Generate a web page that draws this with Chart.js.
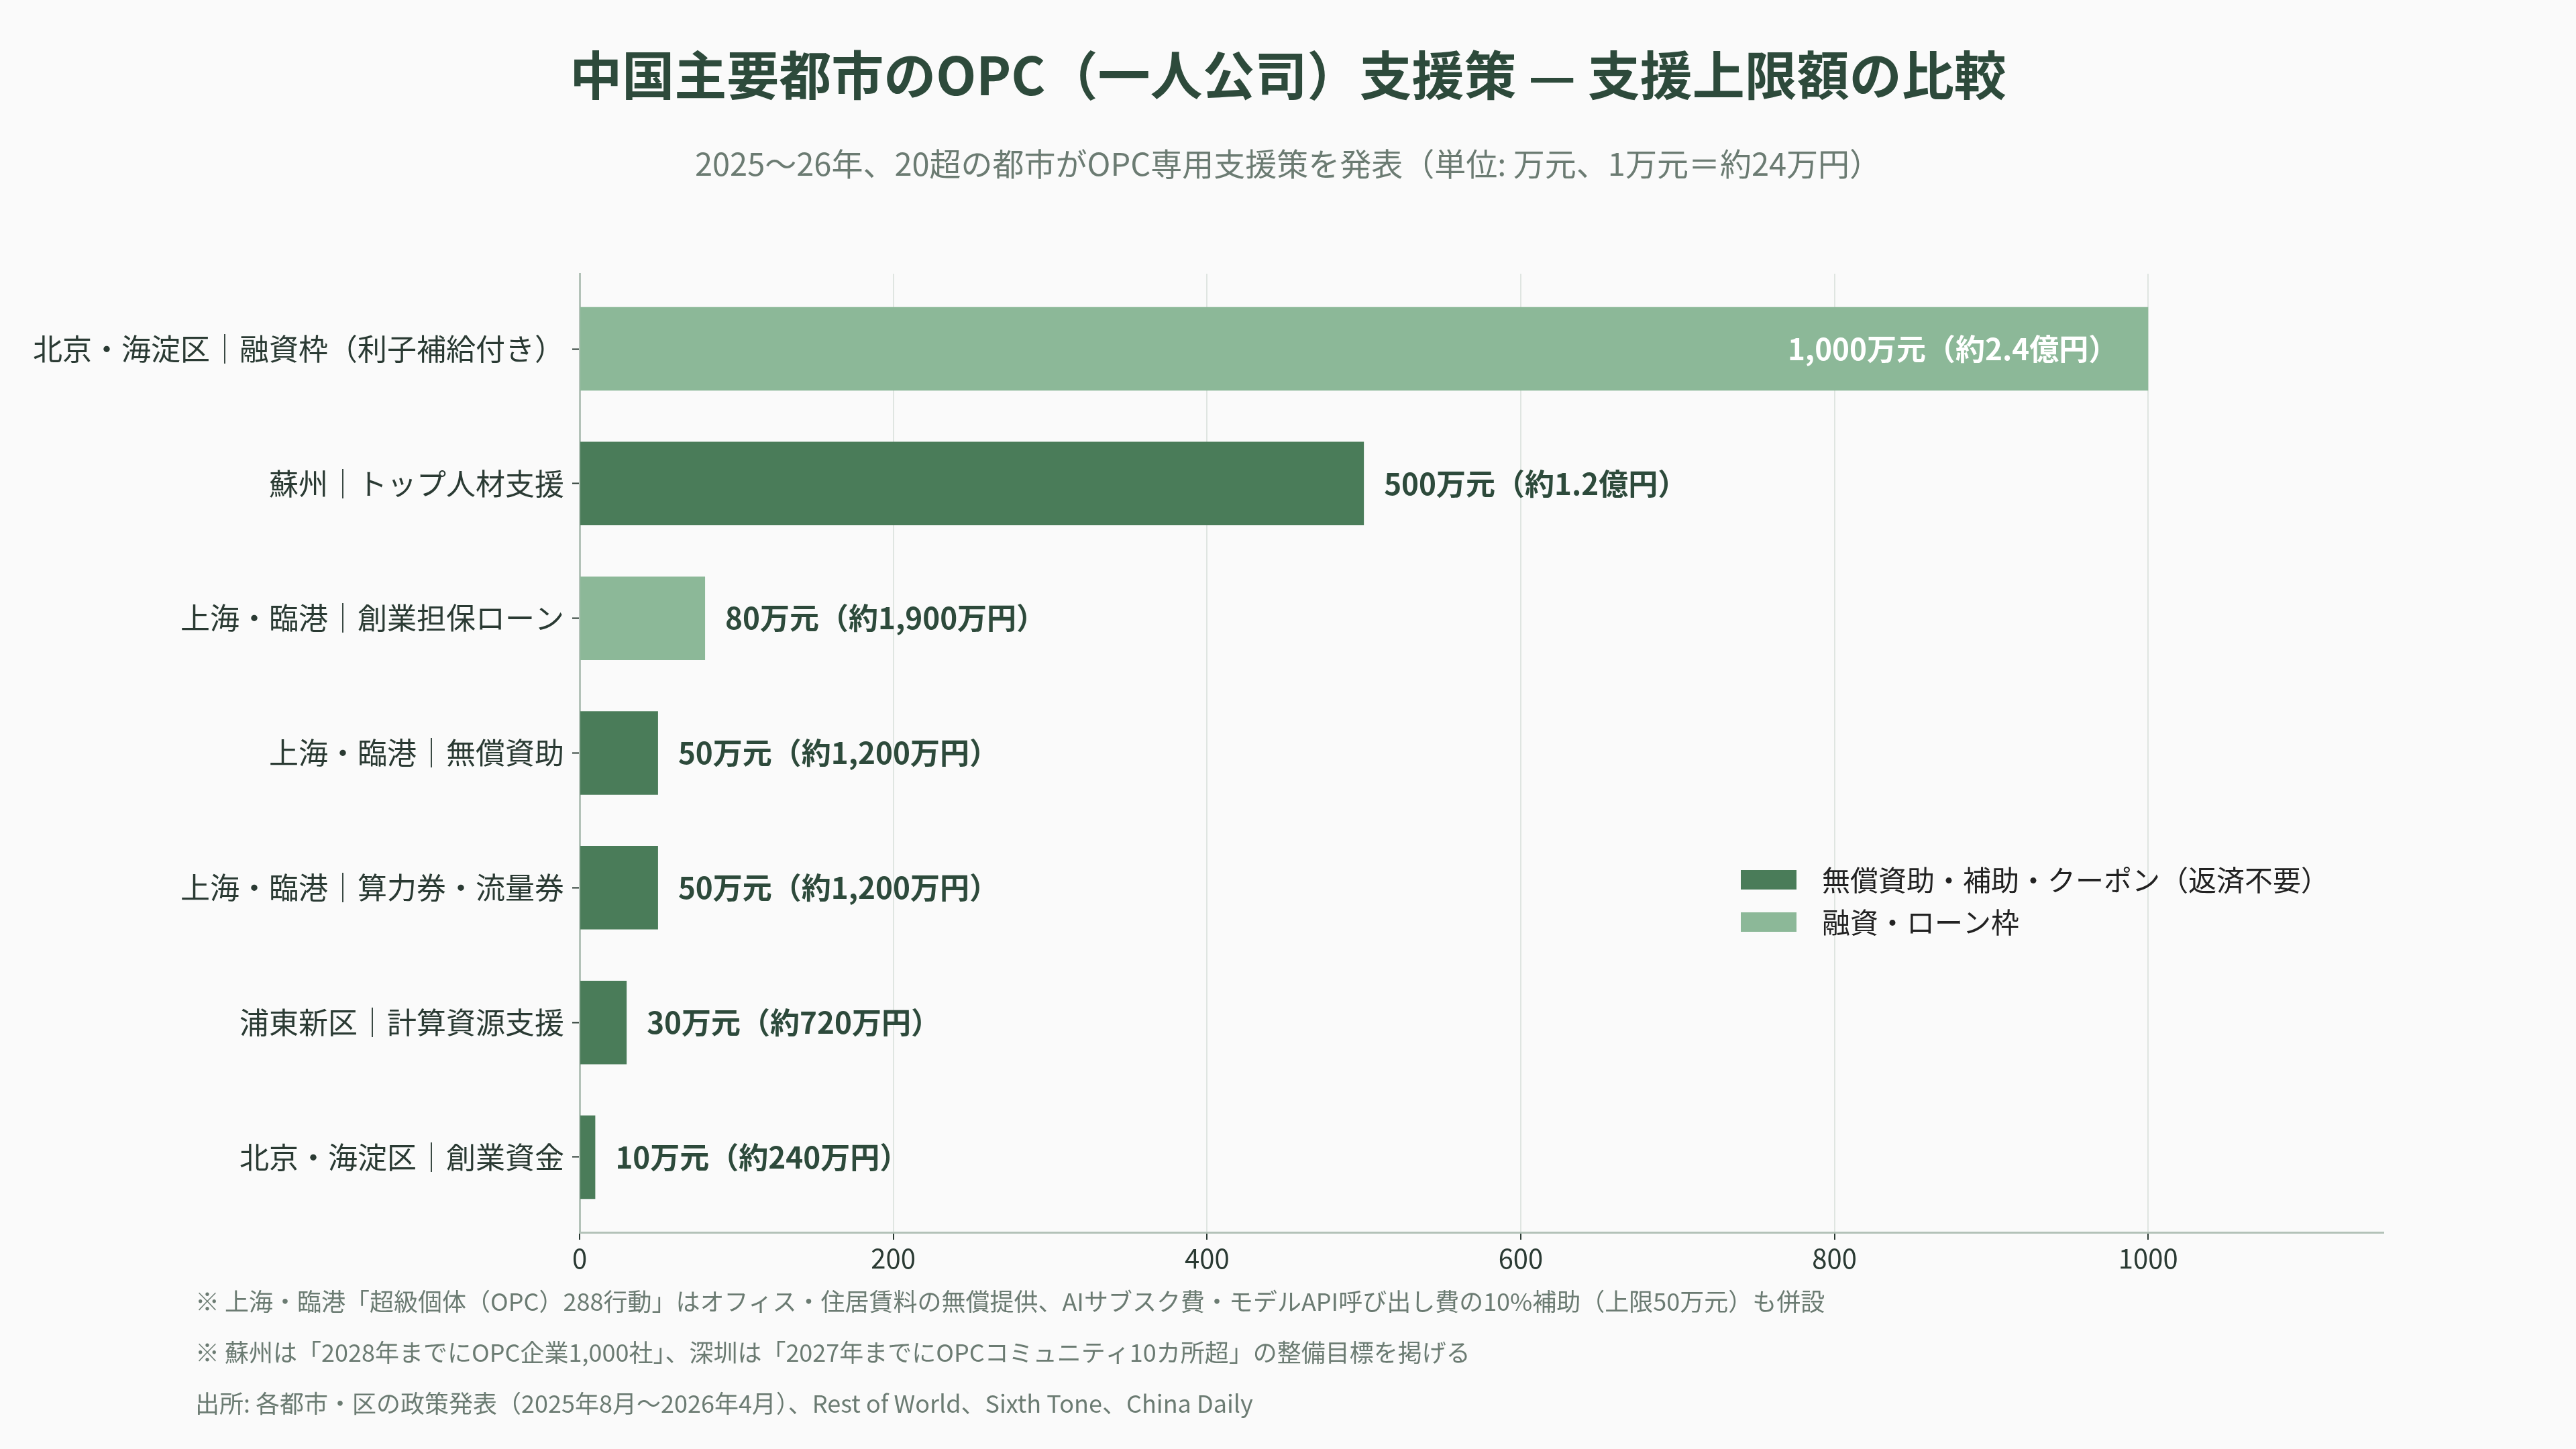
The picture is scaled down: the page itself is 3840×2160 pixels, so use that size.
<!DOCTYPE html>
<html><head><meta charset="utf-8">
<script src="https://cdn.jsdelivr.net/npm/chart.js@4.4.1/dist/chart.umd.min.js"></script>
<style>html,body{margin:0;padding:0;background:#fafafa;} canvas{display:block;}</style>
</head><body>
<canvas id="c" width="3840" height="2160" style="width:3840px;height:2160px"></canvas>
<script>
const categories = [
  '北京・海淀区｜融資枠（利子補給付き）',
  '蘇州｜トップ人材支援',
  '上海・臨港｜創業担保ローン',
  '上海・臨港｜無償資助',
  '上海・臨港｜算力券・流量券',
  '浦東新区｜計算資源支援',
  '北京・海淀区｜創業資金'
];
const values = [1000, 500, 80, 50, 50, 30, 10];
const kinds = ['loan', 'grant', 'loan', 'grant', 'grant', 'grant', 'grant'];
const valueLabels = [
  '1,000万元（約2.4億円）',
  '500万元（約1.2億円）',
  '80万元（約1,900万円）',
  '50万元（約1,200万円）',
  '50万元（約1,200万円）',
  '30万元（約720万円）',
  '10万元（約240万円）'
];
const seriesKeys = ['grant', 'loan'];
const seriesNames = ['無償資助・補助・クーポン（返済不要）', '融資・ローン枠'];
const seriesColors = ['#4a7c59', '#8cb898'];
const xTicks = [0, 200, 400, 600, 800, 1000];
const xMax = 1150;
const titleText = '中国主要都市のOPC（一人公司）支援策 — 支援上限額の比較';
const subtitleText = '2025〜26年、20超の都市がOPC専用支援策を発表（単位: 万元、1万元＝約24万円）';
const footnotes = [
  '※ 上海・臨港「超級個体（OPC）288行動」はオフィス・住居賃料の無償提供、AIサブスク費・モデルAPI呼び出し費の10%補助（上限50万元）も併設',
  '※ 蘇州は「2028年までにOPC企業1,000社」、深圳は「2027年までにOPCコミュニティ10カ所超」の整備目標を掲げる',
  '出所: 各都市・区の政策発表（2025年8月〜2026年4月）、Rest of World、Sixth Tone、China Daily'
];

const FONT = "'Noto Sans CJK JP', 'Noto Sans', sans-serif";
Chart.defaults.font.family = FONT;

const datasets = seriesKeys.map((k, i) => ({
  label: seriesNames[i],
  data: values.map((v, j) => kinds[j] === k ? v : null),
  backgroundColor: seriesColors[i],
  borderWidth: 0,
  grouped: false,
  categoryPercentage: 1,
  barPercentage: 0.62
}));

const bgPlugin = {
  id: 'bg',
  beforeDraw(chart) {
    const ctx = chart.ctx;
    ctx.save();
    ctx.fillStyle = '#fafafa';
    ctx.fillRect(0, 0, chart.width, chart.height);
    ctx.restore();
  }
};

// widen the category band padding slightly at both ends of the y axis
const bandPlugin = {
  id: 'bandPad',
  afterLayout(chart) {
    const s = chart.scales.y;
    const extra = 0.058;
    s._startValue -= extra;
    s._valueRange += 2 * extra;
  }
};

const valueLabelPlugin = {
  id: 'valueLabels',
  afterDatasetsDraw(chart) {
    const ctx = chart.ctx;
    const area = chart.chartArea;
    ctx.save();
    ctx.font = 'bold 44px ' + FONT;
    ctx.textBaseline = 'middle';
    chart.data.datasets.forEach((ds, di) => {
      const meta = chart.getDatasetMeta(di);
      meta.data.forEach((bar, idx) => {
        if (ds.data[idx] == null) return;
        const txt = valueLabels[idx];
        const w = ctx.measureText(txt).width;
        if (bar.x + 30 + w > area.right) {
          ctx.textAlign = 'right';
          ctx.fillStyle = '#ffffff';
          ctx.fillText(txt, bar.x - 45, bar.y);
        } else {
          ctx.textAlign = 'left';
          ctx.fillStyle = '#2d4a3b';
          ctx.fillText(txt, bar.x + 30, bar.y);
        }
      });
    });
    ctx.restore();
  }
};

const legendPlugin = {
  id: 'customLegend',
  afterDraw(chart) {
    const ctx = chart.ctx;
    const area = chart.chartArea;
    const x0 = area.right - 958;
    const y0 = area.top + 889;
    ctx.save();
    ctx.font = '42px ' + FONT;
    ctx.textBaseline = 'middle';
    ctx.textAlign = 'left';
    chart.data.datasets.forEach((ds, i) => {
      const y = y0 + i * 63;
      ctx.fillStyle = ds.backgroundColor;
      ctx.fillRect(x0, y, 83, 29);
      ctx.fillStyle = '#222222';
      ctx.fillText(ds.label, x0 + 121, y + 15);
    });
    ctx.restore();
  }
};

const footnotePlugin = {
  id: 'footnotes',
  afterDraw(chart) {
    const ctx = chart.ctx;
    ctx.save();
    ctx.font = '36px ' + FONT;
    ctx.fillStyle = '#6b7b72';
    ctx.textBaseline = 'middle';
    ctx.textAlign = 'left';
    footnotes.forEach((t, i) => ctx.fillText(t, 291, 1940 + i * 76));
    ctx.restore();
  }
};

new Chart(document.getElementById('c'), {
  type: 'bar',
  data: { labels: categories, datasets },
  plugins: [bgPlugin, bandPlugin, valueLabelPlugin, legendPlugin, footnotePlugin],
  options: {
    indexAxis: 'y',
    responsive: false,
    devicePixelRatio: 1,
    animation: false,
    layout: { padding: { left: 0, right: 0, top: 0, bottom: 253 } },
    plugins: {
      legend: { display: false },
      tooltip: { enabled: false },
      title: {
        display: true,
        text: titleText,
        color: '#2d4a3b',
        font: { size: 78, weight: 'bold', family: FONT },
        padding: { top: 66, bottom: 0 }
      },
      subtitle: {
        display: true,
        text: subtitleText,
        color: '#6b7b72',
        font: { size: 47, family: FONT },
        padding: { top: 56, bottom: 136 }
      }
    },
    scales: {
      x: {
        min: 0,
        max: xMax,
        afterBuildTicks(scale) { scale.ticks = xTicks.map(v => ({ value: v })); },
        afterFit(scale) { scale.height = 70; },
        grid: { color: '#dfe5e1', lineWidth: 2, tickColor: '#2a3a33', tickLength: 11, tickWidth: 2 },
        border: { color: '#b3c2b8', width: 3 },
        ticks: {
          color: '#2a3a33',
          font: { size: 40, family: FONT },
          padding: 4,
          callback: (v) => String(v)
        }
      },
      y: {
        afterFit(scale) { scale.width = 864; },
        grid: { offset: false, drawOnChartArea: false, tickColor: '#2a3a33', tickLength: 11, tickWidth: 2 },
        border: { color: '#b3c2b8', width: 3 },
        ticks: { color: '#2a3a33', font: { size: 44, family: FONT }, padding: 12 }
      },
      yRightSpace: {
        type: 'linear',
        position: 'right',
        display: true,
        grid: { display: false, drawTicks: false },
        border: { display: false },
        ticks: { display: false },
        afterFit(scale) { scale.width = 287; }
      }
    }
  }
});
</script>
</body></html>
